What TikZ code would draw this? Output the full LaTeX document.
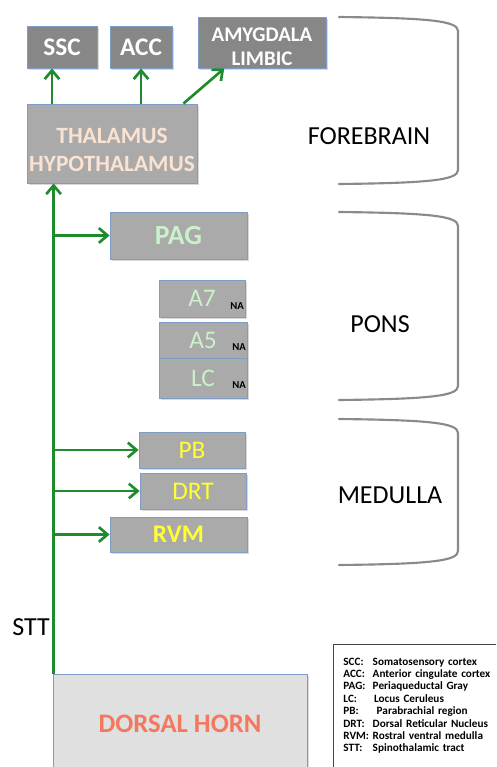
\documentclass[tikz,border=0pt]{standalone}
\usepackage{fontspec}
\setmainfont{Carlito}
\usetikzlibrary{arrows.meta,shadows}

\definecolor{stemgreen}{HTML}{1E8B2C}
\definecolor{topgray}{HTML}{878787}
\definecolor{midgray}{HTML}{AAAAAA}
\definecolor{boxline}{HTML}{7F9CC6}
\definecolor{hornfill}{HTML}{E0E0E0}
\definecolor{horntext}{HTML}{F4775F}
\definecolor{peach}{HTML}{FBE3D2}
\definecolor{palegreen}{HTML}{C9F2C9}
\definecolor{brightyellow}{HTML}{FFFF33}
\definecolor{bracketgray}{HTML}{8A8A8A}
\definecolor{legendline}{HTML}{444444}

\newcommand{\legline}[2]{\makebox[22pt][l]{#1}#2}

\begin{document}
\begin{tikzpicture}[x=0.75pt, y=-0.75pt,
  box/.style={draw=boxline, line width=0.6pt, inner sep=0pt, align=center,
    drop shadow={opacity=0.3, shadow xshift=1.2pt, shadow yshift=-1.2pt}},
  cortex/.style={box, fill=topgray, text=white, font=\bfseries\fontsize{19}{20}\selectfont},
  relay/.style={box, fill=midgray},
  nuc/.style={box, fill=midgray, font=\fontsize{19}{22}\selectfont},
  na/.style={font=\bfseries\fontsize{8}{9}\selectfont, inner sep=1pt},
  tract/.style={draw=stemgreen, line width=2pt, -{Straight Barb[length=6.5pt,width=11pt]}},
  bracket/.style={draw=bracketgray, line width=1.6pt, line cap=round},
  region/.style={font=\fontsize{19.5}{22}\selectfont}]
\useasboundingbox (0,0) rectangle (496,767);
\clip (0,0) rectangle (496,767);

% forebrain
\node[cortex, minimum width=52.5pt, minimum height=31.5pt] (ssc) at (62,47) {SSC};
\node[cortex, minimum width=46.5pt, minimum height=31.5pt] (acc) at (141,47) {ACC};
\node[box, fill=topgray, minimum width=96pt, minimum height=38.25pt,
  label={[text=white, font=\bfseries\fontsize{15.6}{18}\selectfont, align=center, yshift=-3pt]center:AMYGDALA\\LIMBIC}] (amyg) at (262,42.5) {};
\node[relay, minimum width=127.5pt, minimum height=59.25pt,
  label={[text=peach, font=\bfseries\fontsize{17.5}{21}\selectfont, align=center, yshift=-4.5pt]center:THALAMUS\\HYPOTHALAMUS}] (thal) at (112,143.5) {};

% pons
\node[relay, text=palegreen, font=\bfseries\fontsize{20.8}{22}\selectfont, minimum width=102.75pt, minimum height=35.25pt] (pag) at (178.5,235.5) {PAG};
\node[nuc, text=palegreen, minimum width=64.5pt, minimum height=27.75pt] (a7) at (202,298.5) {A7};
\node[nuc, text=palegreen, minimum width=66pt, minimum height=27pt] (a5) at (203,340) {A5};
\node[nuc, text=palegreen, minimum width=66pt, minimum height=30pt] (lc) at (203,378) {LC};
\node[na, anchor=base east] (a7na) at ([yshift=-2pt]a7.base -| a7.east) {NA};
\node[na, anchor=base east] (a5na) at ([yshift=-2pt]a5.base -| a5.east) {NA};
\node[na, anchor=base east] (lcna) at ([yshift=-2pt]lc.base -| lc.east) {NA};

% medulla
\node[nuc, text=brightyellow, minimum width=79.5pt, minimum height=27pt] (pb) at (192,450) {PB};
\node[nuc, text=brightyellow, minimum width=79.5pt, minimum height=27pt] (drt) at (193,491) {DRT};
\node[nuc, text=brightyellow, font=\bfseries\fontsize{19}{22}\selectfont, minimum width=102.75pt, minimum height=26.25pt] (rvm) at (178.5,534.5) {RVM};

% spinal cord
\node[box, fill=hornfill, text=horntext, font=\bfseries\fontsize{20}{22}\selectfont, minimum width=190.5pt, minimum height=75pt] (dh) at (180,724) {DORSAL HORN};

% ascending tract
\coordinate (stt) at ([xshift=0.75pt]dh.north west);
\draw[tract] (stt) -- (stt |- thal.south);
\draw[tract] (stt |- pag.west) -- (pag.west);
\draw[tract] (stt |- pb.west) -- (pb.west);
\draw[tract] (stt |- drt.west) -- (drt.west);
\draw[tract] (stt |- rvm.west) -- (rvm.west);
\node[region] (sttlabel) at (31,627) {STT};

% thalamic outputs
\coordinate (sscfoot) at ([xshift=-7.5pt]ssc.south);
\draw[tract] (sscfoot |- thal.north) -- (sscfoot);
\draw[tract] (thal.north -| acc.south) -- (acc.south);
\draw[tract] ([xshift=-10.5pt]thal.north east) -- ([xshift=20pt]amyg.south west);

% levels
\draw[bracket] (339,17) .. controls (430,18) and (458,21) .. (458,31) -- (458,170) .. controls (458,180) and (430,183) .. (339,184);
\draw[bracket] (339,212) .. controls (430,213) and (458,216) .. (458,226) -- (458,386) .. controls (458,396) and (430,399) .. (339,400);
\draw[bracket] (339,419) .. controls (430,420) and (458,423) .. (458,433) -- (458,551) .. controls (458,561) and (430,564) .. (339,565);
\node[region] (forebrain) at (369,136) {FOREBRAIN};
\node[region] (pons) at (380,324) {PONS};
\node[region] (medulla) at (390,495) {MEDULLA};

% key
\node[draw=legendline, line width=0.6pt, anchor=north west, inner xsep=7.5pt, inner ysep=10pt,
  text width=130pt, align=left, font=\bfseries\fontsize{8.4}{9.3}\selectfont] (legend) at (333,644) {%
  \legline{SCC:}Somatosensory cortex\\
  \legline{ACC:}Anterior cingulate cortex\\
  \legline{PAG:}Periaqueductal Gray\\
  \legline{LC:}\hspace{1pt}Locus Ceruleus\\
  \legline{PB:}\hspace{3pt}Parabrachial region\\
  \legline{DRT:}Dorsal Reticular Nucleus\\
  \legline{RVM:}Rostral ventral medulla\\
  \legline{STT:}Spinothalamic tract};
\end{tikzpicture}
\end{document}
